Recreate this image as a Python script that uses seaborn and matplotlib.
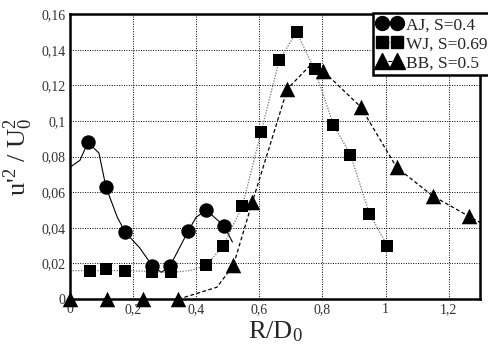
import numpy as np
import pandas as pd
import matplotlib
matplotlib.use("Agg")
import matplotlib.pyplot as plt
import matplotlib.ticker as mticker
from matplotlib.lines import Line2D
import seaborn as sns

# measured points (markers)
aj_x = [0.057, 0.114, 0.175, 0.26, 0.317, 0.374, 0.432, 0.489]
aj_y = [0.088, 0.063, 0.0376, 0.0185, 0.0185, 0.038, 0.050, 0.041]
wj_x = [0.063, 0.114, 0.175, 0.26, 0.32, 0.432, 0.486, 0.546, 0.606, 0.663,
        0.718, 0.775, 0.835, 0.889, 0.949, 1.006]
wj_y = [0.016, 0.017, 0.016, 0.015, 0.015, 0.019, 0.030, 0.052, 0.094, 0.134,
        0.150, 0.129, 0.098, 0.081, 0.048, 0.030]
bb_x = [0.0, 0.117, 0.23, 0.344, 0.518, 0.578, 0.689, 0.803, 0.921, 1.035,
        1.149, 1.263]
bb_y = [0.0, 0.0, 0.0, 0.0, 0.019, 0.0545, 0.118, 0.128, 0.108, 0.074,
        0.058, 0.0466]

# fitted curves
aj_cx = [0.0, 0.032, 0.057, 0.092, 0.114, 0.15, 0.175, 0.22, 0.26, 0.29,
         0.317, 0.374, 0.40, 0.432, 0.489, 0.515]
aj_cy = [0.074, 0.078, 0.088, 0.082, 0.063, 0.046, 0.0376, 0.029, 0.019, 0.015,
         0.0185, 0.038, 0.046, 0.050, 0.041, 0.032]
wj_cx = [0.0, 0.063, 0.114, 0.175, 0.26, 0.32, 0.38, 0.432, 0.486, 0.546,
         0.606, 0.663, 0.718, 0.775, 0.835, 0.889, 0.949, 1.006]
wj_cy = [0.016, 0.016, 0.016, 0.016, 0.0155, 0.015, 0.016, 0.019, 0.030, 0.052,
         0.094, 0.134, 0.150, 0.129, 0.098, 0.081, 0.048, 0.030]
bb_cx = [0.344, 0.466, 0.518, 0.578, 0.689, 0.760, 0.803, 0.921, 1.035,
         1.149, 1.263, 1.30]
bb_cy = [0.0, 0.0067, 0.019, 0.0545, 0.118, 0.131, 0.128, 0.108, 0.074,
         0.058, 0.0466, 0.043]

labels = ["AJ, S=0.4", "WJ, S=0.69", "BB, S=0.5"]

sns.set_style("white")
plt.rcParams["font.family"] = ["Liberation Serif", "DejaVu Serif"]
plt.rcParams["mathtext.fontset"] = "custom"
plt.rcParams["mathtext.rm"] = "Liberation Serif"
plt.rcParams["mathtext.it"] = "Liberation Serif"

fig = plt.figure(figsize=(4.89, 3.45), dpi=100)
ax = fig.add_axes([0.143, 0.133, 0.839, 0.826])

# curves
sns.lineplot(x=aj_cx, y=aj_cy, sort=False, estimator=None, color="k",
             linewidth=0.8, linestyle="-", ax=ax)
sns.lineplot(x=wj_cx, y=wj_cy, sort=False, estimator=None, color="0.45",
             linewidth=0.9, linestyle=(0, (1, 1.2)), ax=ax)
sns.lineplot(x=bb_cx, y=bb_cy, sort=False, estimator=None, color="k",
             linewidth=0.9, linestyle=(0, (3, 2)), ax=ax)

# markers
sns.scatterplot(x=aj_x, y=aj_y, marker="o", s=108, color="k", edgecolor="k",
                linewidth=0, ax=ax, zorder=3)
sns.scatterplot(x=wj_x, y=wj_y, marker="s", s=80, color="k", edgecolor="k",
                linewidth=0, ax=ax, zorder=3)
sns.scatterplot(x=bb_x, y=bb_y, marker="^", s=125, color="k", edgecolor="k",
                linewidth=0, ax=ax, zorder=3, clip_on=False)

ax.set_xlim(0, 1.3)
ax.set_ylim(0, 0.16)
ax.set_xticks([0, 0.2, 0.4, 0.6, 0.8, 1.0, 1.2])
ax.set_yticks([0, 0.02, 0.04, 0.06, 0.08, 0.1, 0.12, 0.14, 0.16])
fmt = mticker.FuncFormatter(lambda v, p: ("%g" % round(v, 3)).replace(".", ","))
ax.xaxis.set_major_formatter(fmt)
ax.yaxis.set_major_formatter(fmt)
ax.tick_params(axis="both", length=0, labelsize=10, pad=3, colors="#333333")
ax.grid(True, color="k", linestyle=(0, (1, 1.5)), linewidth=0.7)
for s in ax.spines.values():
    s.set_linewidth(1.8)
    s.set_color("k")

ax.set_xlabel("R/D$_0$", fontsize=19, labelpad=2)
ax.set_ylabel("u'$^2$ / U$_0^2$", fontsize=19, labelpad=5)

handles = [
    Line2D([], [], color="k", marker="o", markersize=10, linestyle="-", linewidth=0.8),
    Line2D([], [], color="k", marker="s", markersize=9, linestyle=":", linewidth=0.8),
    Line2D([], [], color="k", marker="^", markersize=11, linestyle="--", linewidth=0.8),
]
leg = ax.legend(handles, labels, loc="upper left", bbox_to_anchor=(0.739, 1.004),
                numpoints=2, handlelength=1.45, handletextpad=0.25, fontsize=12.5,
                borderpad=0.2, labelspacing=0.1, fancybox=False, framealpha=1,
                borderaxespad=0, handleheight=0.9)
leg.get_frame().set_edgecolor("k")
leg.get_frame().set_linewidth(1.8)
leg.set_zorder(5)

plt.savefig("out.png", dpi=100)
